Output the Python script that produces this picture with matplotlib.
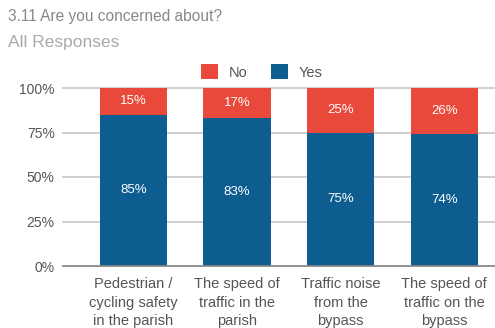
import matplotlib
matplotlib.use("Agg")
import matplotlib.pyplot as plt
import numpy as np

categories = [
    "Pedestrian /\ncycling safety\nin the parish",
    "The speed of\ntraffic in the\nparish",
    "Traffic noise\nfrom the\nbypass",
    "The speed of\ntraffic on the\nbypass",
]
yes_pct = [85, 83, 75, 74]
no_pct = [15, 17, 25, 26]
y_ticks = [0, 25, 50, 75, 100]
y_tick_labels = ["0%", "25%", "50%", "75%", "100%"]

RED = "#e8493a"
BLUE = "#0e5d91"

plt.rcParams["font.family"] = ["Liberation Sans", "DejaVu Sans"]

fig = plt.figure(figsize=(4.95, 3.28), dpi=100)
ax = fig.add_axes([63 / 495, 1 - 266 / 328, 1 - 63 / 495, (266 - 88) / 328])

x = np.arange(len(categories))
width = 0.65
ax.bar(x, yes_pct, width, color=BLUE, label="Yes", zorder=3)
ax.bar(x, no_pct, width, bottom=yes_pct, color=RED, label="No", zorder=3)

for xi, y, n in zip(x, yes_pct, no_pct):
    ax.text(xi, y / 2, f"{y}%", ha="center", va="center", color="white",
            fontsize=9.5, zorder=4)
    ax.text(xi, y + n / 2, f"{n}%", ha="center", va="center", color="white",
            fontsize=9.5, zorder=4)

ax.set_xlim(-0.68, 3.49)
ax.set_ylim(0, 100)
ax.set_yticks(y_ticks)
ax.set_yticklabels(y_tick_labels)
ax.set_xticks(x)
ax.set_xticklabels(categories, fontsize=10.5, color="#555555", linespacing=1.4)
ax.tick_params(axis="y", length=0, pad=6, labelsize=10, labelcolor="#555555")
ax.tick_params(axis="x", length=0, pad=8)
for s in ax.spines.values():
    s.set_visible(False)
for t in y_ticks[1:]:
    ax.axhline(t, color="#cccccc", lw=1.3, zorder=1, clip_on=False)
ax.axhline(0, color="#888888", lw=1.3, zorder=5, clip_on=False)

handles, labels = ax.get_legend_handles_labels()
fig.legend(handles[::-1], labels[::-1], loc="center", bbox_to_anchor=(262 / 495, 1 - 72 / 328),
           ncol=2, frameon=False, fontsize=10.5, handlelength=1.15, handleheight=1.15,
           handletextpad=0.75, columnspacing=1.6, labelcolor="#555555")

fig.text(8 / 495, 1 - 16 / 328, "3.11 Are you concerned about?", fontsize=11.2,
         color="#888888", va="center", ha="left")
fig.text(8 / 495, 1 - 43 / 328, "All Responses", fontsize=12.5,
         color="#aaaaaa", va="center", ha="left")

fig.savefig("out.png", dpi=100)
